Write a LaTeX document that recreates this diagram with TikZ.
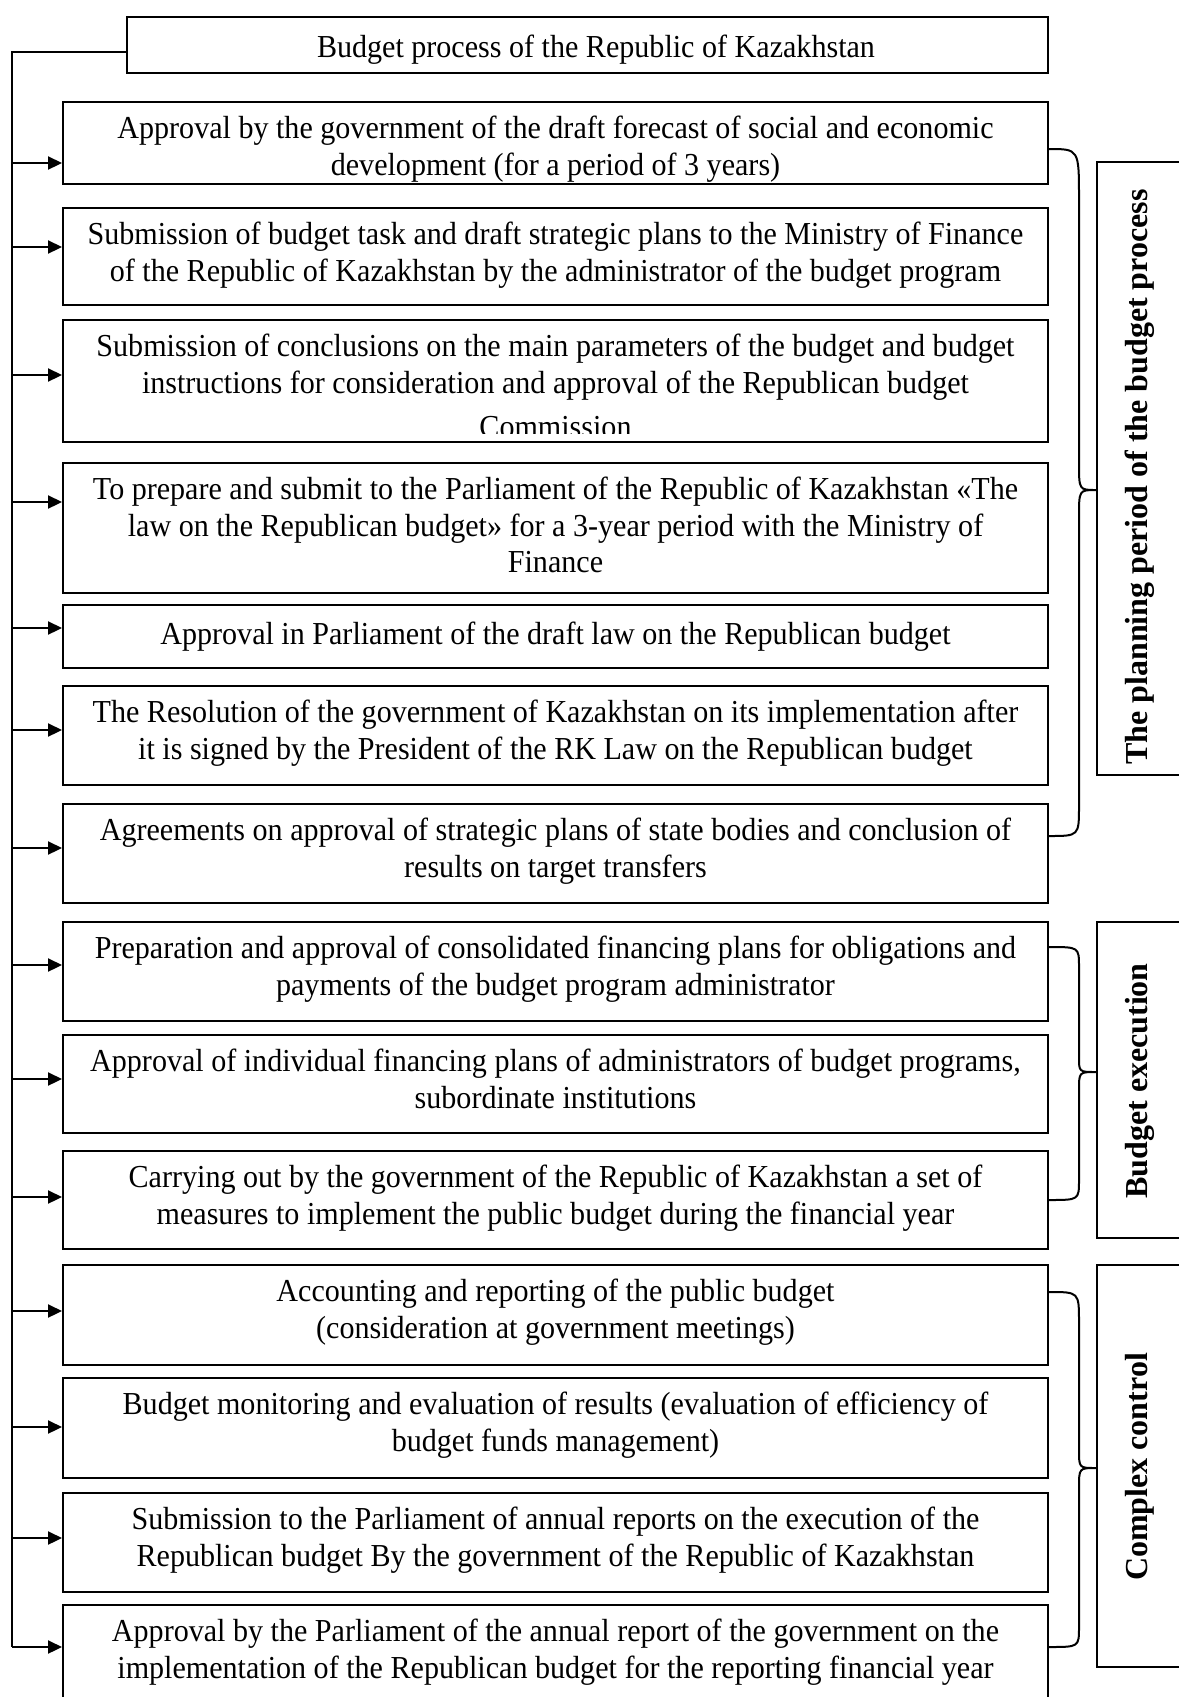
\documentclass[tikz,border=0pt]{standalone}
\usepackage{fontspec}
\setmainfont{Liberation Serif}[FakeStretch=0.94]
\newfontfamily\phasefont{Liberation Serif}
\usetikzlibrary{arrows.meta,calc}

\tikzset{
  stagebox/.style={draw, line width=0.75pt, rectangle, inner sep=0pt, minimum width=369.375pt},
  stagetext/.style={anchor=north, align=center, inner sep=0pt, yshift=-5.34pt,
    execute at begin node=\strut, font=\fontsize{12}{13.8}\selectfont},
  titletext/.style={anchor=base, inner sep=0pt, font=\fontsize{12}{13.8}\selectfont},
  phasebox/.style={draw, line width=0.75pt, rectangle, inner sep=0pt, minimum width=38.625pt},
  phasetext/.style={rotate=90, anchor=base, inner sep=0pt, font=\fontsize{12}{13.8}\phasefont\bfseries},
  feed/.style={line width=0.75pt, -{Triangle[length=5.25pt,width=4.9pt]}},
  bus/.style={line width=0.75pt},
  brace/.style={line width=0.75pt}
}

\begin{document}
\begin{tikzpicture}[x=0.375pt,y=-0.375pt]
  \clip (0,0) rectangle (1179,1697);
  \fill[white] (0,0) rectangle (1179,1697);

  % Title box
  \node[stagebox, minimum width=345.375pt, minimum height=21pt] (b0) at (587.5,45) {};
  \node[titletext] (t0) at (596,57) {Budget process of the Republic of Kazakhstan};

  % Stage boxes
  \node[stagebox, minimum height=30.75pt] (b1) at (555.5,143) {};
  \node[stagetext] (t1) at (b1.north) {Approval by the government of the draft forecast of social and economic\\development (for a period of 3 years)};

  \node[stagebox, minimum height=36.375pt] (b2) at (555.5,256.5) {};
  \node[stagetext] (t2) at (b2.north) {Submission of budget task and draft strategic plans to the Ministry of Finance\\of the Republic of Kazakhstan by the administrator of the budget program};

  \node[stagebox, minimum height=45.75pt] (b3) at (555.5,381) {};
  \begin{scope}
    \clip (63,320) rectangle (1048,433);
    \node[stagetext] (t3) at (b3.north) {Submission of conclusions on the main parameters of the budget and budget\\instructions for consideration and approval of the Republican budget\\[3pt]Commission};
  \end{scope}

  \node[stagebox, minimum height=48.75pt] (b4) at (555.5,528) {};
  \node[stagetext] (t4) at (b4.north) {To prepare and submit to the Parliament of the Republic of Kazakhstan «The\\law on the Republican budget» for a 3-year period with the Ministry of\\Finance};

  \node[stagebox, minimum height=23.625pt] (b5) at (555.5,636.5) {};
  \node[stagetext] (t5) at (b5.north) {Approval in Parliament of the draft law on the Republican budget};

  \node[stagebox, minimum height=37.125pt] (b6) at (555.5,735.5) {};
  \node[stagetext] (t6) at (b6.north) {The Resolution of the government of Kazakhstan on its implementation after\\it is signed by the President of the RK Law on the Republican budget};

  \node[stagebox, minimum height=37.125pt] (b7) at (555.5,853.5) {};
  \node[stagetext] (t7) at (b7.north) {Agreements on approval of strategic plans of state bodies and conclusion of\\results on target transfers};

  \node[stagebox, minimum height=37.125pt] (b8) at (555.5,971.5) {};
  \node[stagetext] (t8) at (b8.north) {Preparation and approval of consolidated financing plans for obligations and\\payments of the budget program administrator};

  \node[stagebox, minimum height=36.75pt] (b9) at (555.5,1084) {};
  \node[stagetext] (t9) at (b9.north) {Approval of individual financing plans of administrators of budget programs,\\subordinate institutions};

  \node[stagebox, minimum height=36.75pt] (b10) at (555.5,1200) {};
  \node[stagetext] (t10) at (b10.north) {Carrying out by the government of the Republic of Kazakhstan a set of\\measures to implement the public budget during the financial year};

  \node[stagebox, minimum height=37.5pt] (b11) at (555.5,1315) {};
  \node[stagetext] (t11) at (b11.north) {Accounting and reporting of the public budget\\(consideration at government meetings)};

  \node[stagebox, minimum height=37.5pt] (b12) at (555.5,1428) {};
  \node[stagetext] (t12) at (b12.north) {Budget monitoring and evaluation of results (evaluation of efficiency of\\budget funds management)};

  \node[stagebox, minimum height=37.125pt] (b13) at (555.5,1542.5) {};
  \node[stagetext] (t13) at (b13.north) {Submission to the Parliament of annual reports on the execution of the\\Republican budget By the government of the Republic of Kazakhstan};

  \node[stagebox, minimum height=43.125pt] (b14) at (555.5,1662.5) {};
  \node[stagetext] (t14) at (b14.north) {Approval by the Parliament of the annual report of the government on the\\implementation of the Republican budget for the reporting financial year};

  % Phase boxes on the right
  \node[phasebox, minimum height=229.875pt] (plan) at (1148.5,468.5) {};
  \node[phasetext] (plantext) at (1147,477) {The planning period of the budget process};
  \node[phasebox, minimum height=118.5pt] (exec) at (1148.5,1080) {};
  \node[phasetext] (exectext) at (1147,1081) {Budget execution};
  \node[phasebox, minimum height=150.75pt] (ctrl) at (1148.5,1466) {};
  \node[phasetext] (ctrltext) at (1147,1467) {Complex control};

  % Bus on the left
  \coordinate (top) at (12,52);
  \coordinate (j1) at (12,163);
  \coordinate (j2) at (12,247);
  \coordinate (j3) at (12,375);
  \coordinate (j4) at (12,502);
  \coordinate (j5) at (12,628);
  \coordinate (j6) at (12,730);
  \coordinate (j7) at (12,848);
  \coordinate (j8) at (12,965);
  \coordinate (j9) at (12,1079);
  \coordinate (j10) at (12,1197);
  \coordinate (j11) at (12,1311);
  \coordinate (j12) at (12,1427);
  \coordinate (j13) at (12,1538);
  \coordinate (j14) at (12,1647);
  \draw[bus] (b0.west |- top) -- (top) -- (j14);

  % Arrows into the stages
  \draw[feed] (j1) -- (j1 -| b1.west);
  \draw[feed] (j2) -- (j2 -| b2.west);
  \draw[feed] (j3) -- (j3 -| b3.west);
  \draw[feed] (j4) -- (j4 -| b4.west);
  \draw[feed] (j5) -- (j5 -| b5.west);
  \draw[feed] (j6) -- (j6 -| b6.west);
  \draw[feed] (j7) -- (j7 -| b7.west);
  \draw[feed] (j8) -- (j8 -| b8.west);
  \draw[feed] (j9) -- (j9 -| b9.west);
  \draw[feed] (j10) -- (j10 -| b10.west);
  \draw[feed] (j11) -- (j11 -| b11.west);
  \draw[feed] (j12) -- (j12 -| b12.west);
  \draw[feed] (j13) -- (j13 -| b13.west);
  \draw[feed] (j14) -- (j14 -| b14.west);

  % Brace of the planning period
  \draw[brace] (b1.east |- 0,149) .. controls (1079,149) .. (1079,199) -- (1079,463)
    .. controls (1079,490) .. (plan.west |- 0,490)
    .. controls (1079,490) .. (1079,517) -- (1079,806)
    .. controls (1079,836) .. (b7.east |- 0,836);

  % Brace of budget execution
  \draw[brace] (b8.east |- 0,947) .. controls (1079,947) .. (1079,967) -- (1079,1057)
    .. controls (1079,1072) .. (exec.west |- 0,1072)
    .. controls (1079,1072) .. (1079,1090) -- (1079,1180)
    .. controls (1079,1200) .. (b10.east |- 0,1200);

  % Brace of complex control
  \draw[brace] (b11.east |- 0,1292) .. controls (1079,1292) .. (1079,1322) -- (1079,1450)
    .. controls (1079,1468) .. (ctrl.west |- 0,1468)
    .. controls (1079,1468) .. (1079,1488) -- (1079,1627)
    .. controls (1079,1647) .. (b14.east |- 0,1647);
\end{tikzpicture}
\end{document}
